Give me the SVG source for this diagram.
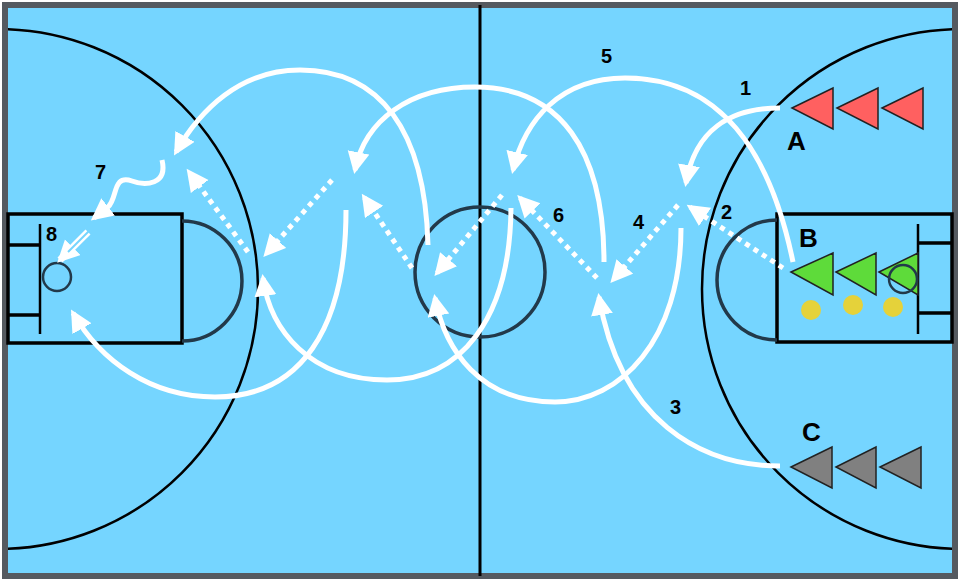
<svg xmlns="http://www.w3.org/2000/svg" width="960" height="581" viewBox="0 0 960 581">
<style>
.line{fill:none;stroke:#000;stroke-width:2.5}
.key{fill:none;stroke:#000;stroke-width:3.5}
.dk{fill:none;stroke:#22394a;stroke-width:3.5}
.run{fill:none;stroke:#fff;stroke-width:5;marker-end:url(#ah)}
.pass{fill:none;stroke:#fff;stroke-width:5;stroke-dasharray:5 5;marker-end:url(#ah)}
.lbl{font-family:"Liberation Sans",Arial,sans-serif;font-weight:bold;fill:#000}
.num{font-size:20px}
.let{font-size:26px}
</style>
<defs>
<marker id="ah" markerUnits="userSpaceOnUse" markerWidth="26" markerHeight="24" refX="18" refY="11" orient="auto" viewBox="0 0 26 24">
<path d="M0,0 L22,11 L0,22 Z" fill="#fff"/>
</marker>
<clipPath id="court"><rect x="8" y="8" width="944" height="565"/></clipPath>
</defs>
<g id="court-lines">
<rect x="5" y="5" width="950" height="571" fill="#75D5FF" stroke="#555a60" stroke-width="6"/>
<g clip-path="url(#court)">
<circle class="line" cx="-2" cy="289" r="260"/>
<circle class="line" cx="962" cy="289" r="260"/>
</g>
<line x1="480" y1="5" x2="480" y2="576" stroke="#000" stroke-width="3"/>
<circle class="dk" cx="480" cy="272" r="65"/>
<rect class="key" x="8" y="214" width="174" height="129"/>
<line class="line" x1="40" y1="224" x2="40" y2="334"/>
<line class="key" x1="8" y1="245" x2="40" y2="245"/>
<line class="key" x1="8" y1="315" x2="40" y2="315"/>
<circle cx="57" cy="277" r="14" fill="none" stroke="#22394a" stroke-width="2.5"/>
<path class="dk" d="M182,221 A60,60 0 0 1 182,341"/>
<rect class="key" x="777" y="214" width="175" height="128"/>
<line class="line" x1="918" y1="224" x2="918" y2="334"/>
<line class="key" x1="918" y1="243" x2="952" y2="243"/>
<line class="key" x1="918" y1="313" x2="952" y2="313"/>
<path class="dk" d="M777,220 A60,60 0 0 0 777,340"/>
</g>
<g id="team-A" fill="#FF6060" stroke="#222" stroke-width="1.5">
<polygon points="792,108 833,88 833,129"/>
<polygon points="837,108 878,88 878,129"/>
<polygon points="882,108 923,88 923,129"/>
</g>
<g id="team-B" stroke="#222" stroke-width="1.5">
<polygon points="791,272 833,253 833,295" fill="#5EDB3A"/>
<polygon points="836,272 876,253 876,295" fill="#5EDB3A"/>
<polygon points="879,272 918,253 918,295" fill="#5EDB3A"/>
<circle cx="903" cy="279" r="14" fill="none" stroke="#22394a" stroke-width="2.5"/>
<circle cx="811" cy="310" r="10" fill="#E5D23A" stroke="none"/>
<circle cx="853" cy="305" r="10" fill="#E5D23A" stroke="none"/>
<circle cx="893" cy="307" r="10" fill="#E5D23A" stroke="none"/>
</g>
<g id="team-C" fill="#808080" stroke="#222" stroke-width="1.5">
<polygon points="791,467 832,447 832,488"/>
<polygon points="836,467 876,447 876,488"/>
<polygon points="880,467 921,447 921,488"/>
</g>
<g id="connectors">
<path class="run" d="M780,108 C 730,108 695,130 686,183"/>
<path class="run" d="M793,262 C 770,150 720,78 625,78 C 560,78 525,120 513,170"/>
<path class="pass" d="M783,268 L 690,207"/>
<path class="run" d="M780,466 C 700,466 620,420 599,297"/>
<path class="pass" d="M678,205 L 613,280"/>
<path class="run" d="M681,228 C 681,340 620,402 555,402 C 480,402 445,350 435,298"/>
<path class="run" d="M604,262 C 604,150 560,87 475,87 C 410,87 365,120 355,170"/>
<path class="pass" d="M597,278 L 520,198"/>
<path class="run" d="M511,208 C 510,320 460,380 387,380 C 310,380 270,330 263,278"/>
<path class="pass" d="M502,195 L 437,273"/>
<path class="run" d="M428,245 C 425,130 380,70 300,70 C 240,70 200,110 176,152"/>
<path class="pass" d="M412,268 L 364,197"/>
<path class="run" d="M346,210 C 346,330 300,397 215,397 C 150,397 100,360 73,313"/>
<path class="pass" d="M332,180 L 266,254"/>
<path class="pass" d="M248,252 L 189,172"/>
<path class="run" d="M162,160 C 168,185 145,186 132,181 C 112,174 118,198 108,207 L 94,218"/>
<path d="M88,232 L 60,260" fill="none" stroke="#fff" stroke-width="7" marker-end="url(#ah)"/>
<path d="M89,231 L 68,252" fill="none" stroke="#75D5FF" stroke-width="2"/>
</g>
<g id="labels" class="lbl">
<text class="let" x="787" y="150">A</text>
<text class="let" x="799" y="247">B</text>
<text class="let" x="802" y="441">C</text>
<text class="num" x="740" y="95">1</text>
<text class="num" x="721" y="219">2</text>
<text class="num" x="670" y="414">3</text>
<text class="num" x="633" y="229">4</text>
<text class="num" x="601" y="63">5</text>
<text class="num" x="553" y="222">6</text>
<text class="num" x="95" y="179">7</text>
<text class="num" x="46" y="241">8</text>
</g>
</svg>
